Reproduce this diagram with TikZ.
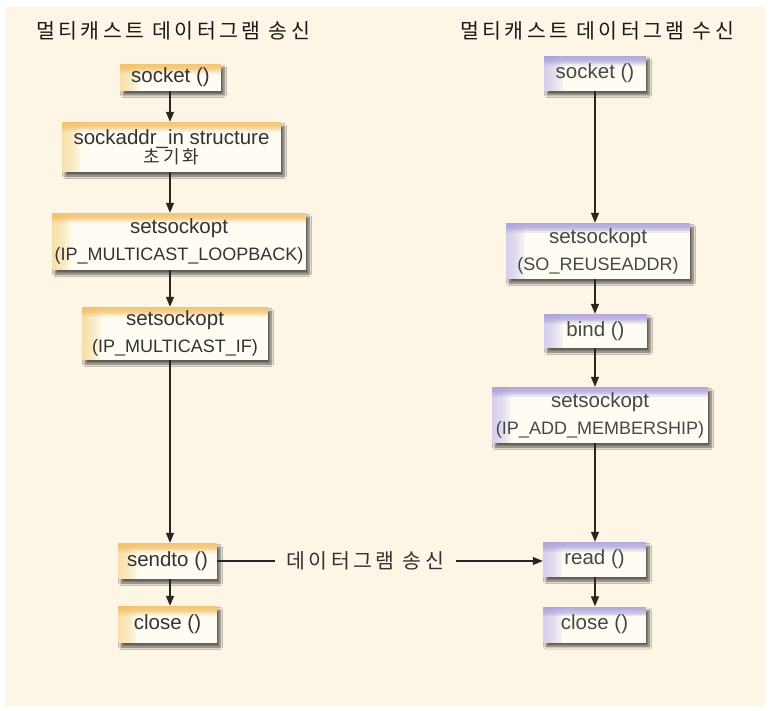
\documentclass[tikz,border=0pt]{standalone}
\usepackage{fontspec}
\setmainfont{Liberation Sans}
\newfontfamily\kr{Noto Sans CJK KR}[LetterSpace=17]
\usetikzlibrary{arrows.meta,shadows,shadows.blur}
\definecolor{bg}{HTML}{FDF6E6}
\definecolor{boxfill}{HTML}{FFFCF3}
\definecolor{ledge}{HTML}{F2BE62}
\definecolor{lside}{HTML}{F8DC9C}
\definecolor{redge}{HTML}{A89EDA}
\definecolor{rside}{HTML}{CFC8EE}
\definecolor{txt}{HTML}{333333}
\definecolor{rtxt}{HTML}{474747}
\definecolor{arrc}{HTML}{2B2520}
\newcommand{\lc}{\fontsize{20.5}{27}\selectfont}
\newcommand{\uc}{\fontsize{18}{27}\selectfont}
\tikzset{
  box/.style={draw=none, fill=boxfill, inner sep=0pt, align=center, text=txt,
    font=\lc,
    blur shadow={shadow xshift=3pt, shadow yshift=-4pt, shadow blur steps=6,
      shadow blur radius=2.5pt, shadow opacity=62}},
  edges/.style 2 args={path picture={
      \foreach \i in {1,...,12}
        \fill[#2, opacity=0.12]
          (path picture bounding box.north west) rectangle ([xshift=1.6*\i pt]path picture bounding box.south west);
      \foreach \i in {1,...,8}
        \fill[#1, opacity=0.22]
          (path picture bounding box.north west) rectangle ([yshift=-1.2*\i pt]path picture bounding box.north east);}},
  lbox/.style={box, edges={ledge}{lside}},
  rbox/.style={box, text=rtxt, edges={redge}{rside}},
  flow/.style={draw=arrc, line width=1.3pt, -{Triangle[length=10pt,width=8pt]}},
  title/.style={font=\kr\fontsize{20.5}{24}\selectfont, text=black!90, inner sep=0pt}
}
\begin{document}
\begin{tikzpicture}[x=1pt,y=-1pt]
\useasboundingbox (0,0) rectangle (770,711);
\fill[white] (0,0) rectangle (770,711);
\fill[bg] (5,7) rectangle (765,706);

\coordinate (lx) at (170,0);
\coordinate (rx) at (595,0);

\node[title] (tl) at (173,31) {멀티캐스트 데이터그램 송신};
\node[title] (tr) at (597,31) {멀티캐스트 데이터그램 수신};

% left column
\node[lbox, minimum width=101pt, minimum height=27pt] (Ls) at (170.5,77.5) {socket ()};
\node[lbox, minimum width=219pt, minimum height=50pt, font=\fontsize{20.5}{21}\selectfont] (Lsa) at (171.5,147)
  {\raisebox{-2pt}{sockaddr\_in structure}\\{\kr\fontsize{18}{19}\selectfont 초기화}};
\node[lbox, minimum width=254pt, minimum height=57pt] (Llb) at (179,241.5)
  {setsockopt\\{\uc(IP\_MULTICAST\_LOOPBACK)}};
\node[lbox, minimum width=186pt, minimum height=53pt] (Lif) at (175,333.5)
  {setsockopt\\{\uc(IP\_MULTICAST\_IF)}};
\node[lbox, minimum width=99pt, minimum height=36pt] (Lsend) at (167.5,561) {sendto ()};
\node[lbox, minimum width=99pt, minimum height=37pt] (Lclose) at (167.5,624.5) {close ()};

% right column
\node[rbox, minimum width=102pt, minimum height=35pt] (Rs) at (595,73.5) {socket ()};
\node[rbox, minimum width=184pt, minimum height=56pt] (Rre) at (598,251)
  {setsockopt\\{\uc(SO\_REUSEADDR)}};
\node[rbox, minimum width=103pt, minimum height=34pt] (Rb) at (595.5,331) {bind ()};
\node[rbox, minimum width=216pt, minimum height=56pt] (Rad) at (600,415)
  {setsockopt\\{\uc(IP\_ADD\_MEMBERSHIP)}};
\node[rbox, minimum width=103pt, minimum height=35pt] (Rrd) at (594.5,559.5) {read ()};
\node[rbox, minimum width=103pt, minimum height=36pt] (Rcl) at (594.5,624.5) {close ()};

% left arrows
\draw[flow] (Ls.south -| lx) -- (Lsa.north -| lx);
\draw[flow] (Lsa.south -| lx) -- (Llb.north -| lx);
\draw[flow] (Llb.south -| lx) -- (Lif.north -| lx);
\draw[flow] (Lif.south -| lx) -- (Lsend.north -| lx);
\draw[flow] (Lsend.south -| lx) -- (Lclose.north -| lx);

% right arrows
\draw[flow] (Rs.south -| rx) -- (Rre.north -| rx);
\draw[flow] (Rre.south -| rx) -- (Rb.north -| rx);
\draw[flow] (Rb.south -| rx) -- (Rad.north -| rx);
\draw[flow] (Rad.south -| rx) -- (Rrd.north -| rx);
\draw[flow] (Rrd.south -| rx) -- (Rcl.north -| rx);

% datagram send
\draw[flow, line width=1.1pt] (Lsend.east) -- node[pos=0.455, fill=bg, inner xsep=11.5pt, inner ysep=2pt, text=txt, font=\kr\fontsize{20.5}{24}\selectfont] (lbl) {데이터그램 송신} (Lsend.east -| Rrd.west);
\end{tikzpicture}
\end{document}
